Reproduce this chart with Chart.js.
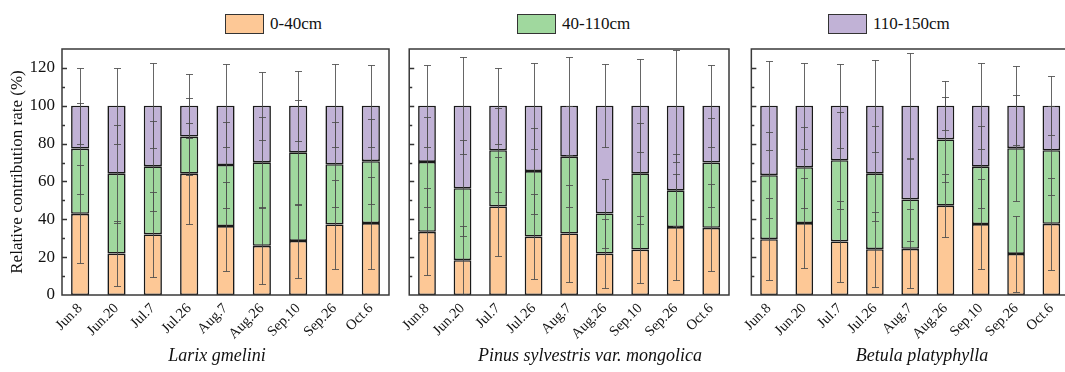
<!DOCTYPE html>
<html>
<head>
<meta charset="utf-8">
<script src="https://cdn.jsdelivr.net/npm/chart.js@4.4.1/dist/chart.umd.min.js"></script>
<style>
    html, body { margin: 0; padding: 0; background: #fff; overflow: hidden; width: 1065px; height: 372px; }
    #wrap { position: relative; width: 1065px; height: 372px; font-family: "Liberation Serif", "Times New Roman", serif; color: #111; }
    .panel { position: absolute; top: 0; }
    .legend-item { position: absolute; top: 14px; height: 20px; font-size: 17px; line-height: 20px; }
    .swatch { position: absolute; left: 0; top: 0; width: 37px; height: 18px; border: 1px solid #333; }
    .legend-item .lbl { position: absolute; left: 45px; top: 0; white-space: nowrap; }
    .ptitle { position: absolute; top: 345px; font-size: 18px; font-style: italic; white-space: nowrap; transform: translateX(-50%); }
</style>
</head>
<body>
<div id="wrap">
    <div class="legend-item" style="left:225px"><div class="swatch" style="background:#fdc896"></div><span class="lbl">0-40cm</span></div>
    <div class="legend-item" style="left:517px"><div class="swatch" style="background:#a0d89e"></div><span class="lbl">40-110cm</span></div>
    <div class="legend-item" style="left:828px"><div class="swatch" style="background:#c1b2d6"></div><span class="lbl">110-150cm</span></div>

    <canvas id="larixChart" class="panel" width="390" height="372" style="left:0px"></canvas>
    <canvas id="pinusChart" class="panel" width="330" height="372" style="left:400px"></canvas>
    <canvas id="betulaChart" class="panel" width="328" height="372" style="left:742px"></canvas>

    <div class="ptitle" style="left:217px">Larix gmelini</div>
    <div class="ptitle" style="left:590px">Pinus sylvestris var. mongolica</div>
    <div class="ptitle" style="left:922px">Betula platyphylla</div>
</div>
<script>
(function() {
    'use strict';

    const dates = ['Jun.8', 'Jun.20', 'Jul.7', 'Jul.26', 'Aug.7', 'Aug.26', 'Sep.10', 'Sep.26', 'Oct.6'];
    const layers = ['0-40cm', '40-110cm', '110-150cm'];
    const yTicks = [0, 20, 40, 60, 80, 100, 120];

    // Larix gmelini - segment values (%) and error bars
    const larixShallow = [42.9, 21.9, 32.0, 64.1, 36.4, 26.0, 28.6, 37.3, 38.0];
    const larixMiddle  = [34.5, 42.2, 36.0, 19.6, 32.3, 44.1, 46.8, 31.8, 32.7];
    const larixDeep    = [22.6, 35.9, 32.0, 16.3, 31.3, 29.9, 24.6, 30.9, 29.3];
    const larixErrShallow = [25.8, 17.0, 22.4, 26.8, 23.5, 20.3, 19.4, 23.6, 24.3];
    const larixErrMiddle  = [24.0, 25.8, 23.8, 20.4, 22.5, 24.0, 27.6, 22.4, 22.5];
    const larixErrDeep    = [20.0, 20.0, 22.5, 17.0, 22.0, 18.0, 18.5, 21.9, 21.7];

    // Pinus sylvestris var. mongolica
    const pinusShallow = [33.4, 18.4, 46.8, 30.9, 32.5, 21.9, 24.0, 35.9, 35.5];
    const pinusMiddle  = [36.9, 38.0, 29.7, 34.6, 40.6, 21.2, 40.3, 19.4, 34.5];
    const pinusDeep    = [29.7, 43.6, 23.5, 34.5, 26.9, 56.9, 35.7, 44.7, 30.0];
    const pinusErrShallow = [23.0, 17.8, 26.0, 22.3, 25.7, 18.0, 17.5, 28.2, 23.0];
    const pinusErrMiddle  = [23.6, 25.4, 22.3, 22.9, 26.8, 18.1, 26.7, 19.1, 23.4];
    const pinusErrDeep    = [21.6, 25.6, 20.0, 22.6, 25.8, 22.0, 24.6, 29.5, 21.8];

    // Betula platyphylla
    const betulaShallow = [29.5, 38.0, 28.3, 24.2, 24.4, 47.2, 37.5, 21.7, 37.6];
    const betulaMiddle  = [33.8, 29.5, 42.9, 39.9, 26.1, 35.0, 30.3, 55.9, 38.9];
    const betulaDeep    = [36.7, 32.5, 28.8, 35.9, 49.5, 17.8, 32.2, 22.4, 23.5];
    const betulaErrShallow = [21.8, 23.9, 21.4, 19.8, 20.9, 16.7, 23.9, 19.9, 24.2];
    const betulaErrMiddle  = [22.6, 21.5, 25.7, 25.0, 21.9, 22.3, 21.7, 28.1, 23.6];
    const betulaErrDeep    = [23.6, 22.8, 22.1, 24.4, 28.0, 13.0, 22.6, 20.8, 15.6];

    const colors = ['#fdc896', '#a0d89e', '#c1b2d6'];
    const fontFamily = '"Liberation Serif", "Times New Roman", serif';

    // error bars at the top of each stacked segment, inward ticks, frame
    const panelDecor = {
        id: 'panelDecor',
        afterDatasetsDraw(chart) {
            const ctx = chart.ctx;
            const yScale = chart.scales.y;
            const sums = new Array(chart.data.labels.length).fill(0);
            ctx.save();
            ctx.strokeStyle = 'rgba(75, 75, 75, 0.85)';
            ctx.lineWidth = 1;
            chart.data.datasets.forEach(function(ds, di) {
                const meta = chart.getDatasetMeta(di);
                ds.data.forEach(function(v, i) {
                    sums[i] += v;
                    const e = ds.errors[i];
                    const x = Math.round(meta.data[i].x) + 0.5;
                    const yHi = Math.round(yScale.getPixelForValue(sums[i] + e)) + 0.5;
                    const yLo = Math.round(yScale.getPixelForValue(sums[i] - e)) + 0.5;
                    ctx.beginPath();
                    ctx.moveTo(x, yHi); ctx.lineTo(x, yLo);
                    ctx.moveTo(x - 3.5, yHi); ctx.lineTo(x + 3.5, yHi);
                    ctx.moveTo(x - 3.5, yLo); ctx.lineTo(x + 3.5, yLo);
                    ctx.stroke();
                });
            });
            ctx.restore();
        },
        afterDraw(chart) {
            const ctx = chart.ctx;
            const a = chart.chartArea;
            const yScale = chart.scales.y;
            ctx.save();
            ctx.strokeStyle = '#333';
            ctx.lineWidth = 1.5;
            for (let v = 10; v <= 120; v += 10) {
                const len = (v % 20 === 0) ? 5 : 3;
                const py = Math.round(yScale.getPixelForValue(v)) + 0.5;
                ctx.beginPath();
                ctx.moveTo(a.left, py);
                ctx.lineTo(a.left + len, py);
                ctx.stroke();
            }
            ctx.strokeStyle = '#3a3a3a';
            ctx.strokeRect(a.left, a.top, a.right - a.left, a.bottom - a.top);
            ctx.restore();
        }
    };

    function makeDatasets(values, errors) {
        return values.map(function(vals, k) {
            return {
                label: layers[k],
                data: vals,
                errors: errors[k],
                backgroundColor: colors[k],
                borderColor: '#1a1a1a',
                borderWidth: 1.6,
                borderSkipped: false,
                barPercentage: 1,
                categoryPercentage: 0.5
            };
        });
    }

    function makePanel(canvasId, values, errors, showY) {
        return new Chart(document.getElementById(canvasId), {
            type: 'bar',
            data: { labels: dates, datasets: makeDatasets(values, errors) },
            options: {
                responsive: false,
                animation: false,
                layout: { padding: { top: 49, right: 1, left: 0, bottom: 0 } },
                plugins: {
                    legend: { display: false },
                    tooltip: { enabled: false }
                },
                scales: {
                    x: {
                        stacked: true,
                        grid: { display: false, drawTicks: false },
                        border: { display: false },
                        ticks: {
                            autoSkip: false,
                            minRotation: 45,
                            maxRotation: 45,
                            padding: 5,
                            color: '#111',
                            font: { family: fontFamily, size: 14.5 }
                        },
                        afterFit: function(s) { s.height = 77; }
                    },
                    y: {
                        stacked: true,
                        min: 0,
                        max: 130,
                        grid: { display: false, drawTicks: false },
                        border: { display: false },
                        afterBuildTicks: function(s) { s.ticks = yTicks.map(function(v) { return { value: v }; }); },
                        ticks: {
                            display: showY,
                            padding: 7,
                            color: '#111',
                            font: { family: fontFamily, size: 17 }
                        },
                        title: {
                            display: showY,
                            text: 'Relative contribution rate (%)',
                            color: '#111',
                            font: { family: fontFamily, size: 17 },
                            padding: { top: 7, bottom: 0 }
                        },
                        afterFit: function(s) { s.width = showY ? 62 : 1; }
                    }
                }
            },
            plugins: [panelDecor]
        });
    }

    makePanel('larixChart',
        [larixShallow, larixMiddle, larixDeep],
        [larixErrShallow, larixErrMiddle, larixErrDeep], true);
    makePanel('pinusChart',
        [pinusShallow, pinusMiddle, pinusDeep],
        [pinusErrShallow, pinusErrMiddle, pinusErrDeep], false);
    makePanel('betulaChart',
        [betulaShallow, betulaMiddle, betulaDeep],
        [betulaErrShallow, betulaErrMiddle, betulaErrDeep], false);
})();
</script>
</body>
</html>
